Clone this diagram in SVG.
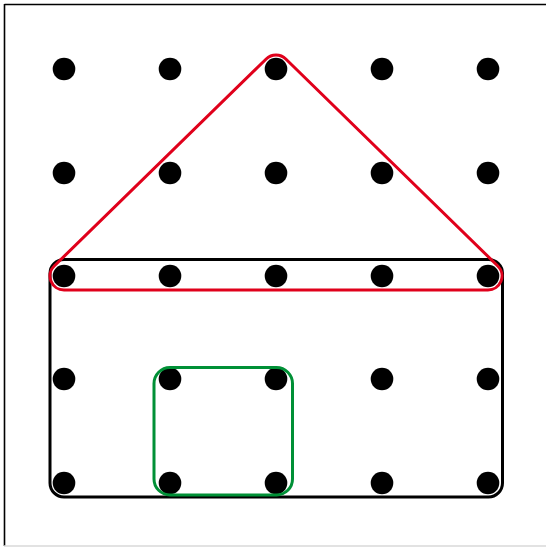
<svg xmlns="http://www.w3.org/2000/svg" width="546" height="547" viewBox="0 0 546 547">
<style>
.peg{fill:#000}
.band{fill:none;stroke-width:3;stroke-linejoin:round}
</style>
<rect width="546" height="547" fill="#fff"/>
<g id="frame">
<line x1="4.5" y1="4.5" x2="546" y2="4.5" stroke="#000" stroke-width="1.6"/>
<line x1="4.5" y1="4" x2="4.5" y2="546" stroke="#000" stroke-width="1.6"/>
<line x1="4" y1="546" x2="546" y2="546" stroke="#d8d8d8" stroke-width="1.5"/>
</g>
<g id="pegs">
<circle class="peg" cx="64" cy="69" r="11.3"/><circle class="peg" cx="170" cy="69" r="11.3"/><circle class="peg" cx="276" cy="69" r="11.3"/><circle class="peg" cx="382" cy="69" r="11.3"/><circle class="peg" cx="488" cy="69" r="11.3"/>
<circle class="peg" cx="64" cy="173" r="11.3"/><circle class="peg" cx="170" cy="173" r="11.3"/><circle class="peg" cx="276" cy="173" r="11.3"/><circle class="peg" cx="382" cy="173" r="11.3"/><circle class="peg" cx="488" cy="173" r="11.3"/>
<circle class="peg" cx="64" cy="276" r="11.3"/><circle class="peg" cx="170" cy="276" r="11.3"/><circle class="peg" cx="276" cy="276" r="11.3"/><circle class="peg" cx="382" cy="276" r="11.3"/><circle class="peg" cx="488" cy="276" r="11.3"/>
<circle class="peg" cx="64" cy="379" r="11.3"/><circle class="peg" cx="170" cy="379" r="11.3"/><circle class="peg" cx="276" cy="379" r="11.3"/><circle class="peg" cx="382" cy="379" r="11.3"/><circle class="peg" cx="488" cy="379" r="11.3"/>
<circle class="peg" cx="64" cy="483" r="11.3"/><circle class="peg" cx="170" cy="483" r="11.3"/><circle class="peg" cx="276" cy="483" r="11.3"/><circle class="peg" cx="382" cy="483" r="11.3"/><circle class="peg" cx="488" cy="483" r="11.3"/>
</g>
<g id="connectors">
<rect id="black-band" class="band" x="50" y="259.5" width="452.5" height="237.5" rx="14" stroke="#000"/>
<path id="red-band" class="band" stroke="#e0001b" d="M266.2,59 L54.2,266 A14,14 0 0 0 64,290 L488,290 A14,14 0 0 0 497.8,266 L285.8,59 A14,14 0 0 0 266.2,59 Z"/>
<rect id="green-band" class="band" x="154" y="367.5" width="138.5" height="127.5" rx="16" stroke="#009036"/>
</g>
</svg>
